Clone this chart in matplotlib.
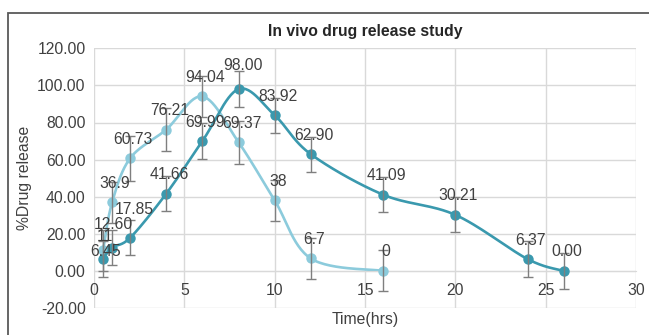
import matplotlib.pyplot as plt
from matplotlib.patches import Rectangle
import numpy as np

plt.rcParams['font.family'] = ['Liberation Sans', 'DejaVu Sans']

# light series
t_a = [0.5, 1, 2, 4, 6, 8, 10, 12, 16]
rel_a = [11, 36.9, 60.73, 76.21, 94.04, 69.37, 38, 6.7, 0]
lab_a = ['11', '36.9', '60.73', '76.21', '94.04', '69.37', '38', '6.7', '0']
err_a = [11, 11, 12, 11.5, 11, 11.5, 11, 11, 11]

# dark series
t_b = [0.5, 1, 2, 4, 6, 8, 10, 12, 16, 20, 24, 26]
rel_b = [6.45, 12.60, 17.85, 41.66, 69.99, 98.00, 83.92, 62.90, 41.09, 30.21, 6.37, 0.00]
lab_b = ['6.45', '12.60', '17.85', '41.66', '69.99', '98.00', '83.92', '62.90',
         '41.09', '30.21', '6.37', '0.00']
err_b = [9.5] * 12

light = '#8ccbdc'
dark = '#3a99ae'
txt = '#404040'
grid = '#d9d9d9'


def smooth(x, y, n=30):
    # excel style smoothed line (catmull-rom as cubic bezier)
    p = np.column_stack([x, y]).astype(float)
    p = np.vstack([p[0], p, p[-1]])
    out = []
    s = np.linspace(0, 1, n)[:, None]
    for i in range(1, len(p) - 2):
        p0, p1, p2, p3 = p[i - 1], p[i], p[i + 1], p[i + 2]
        c1 = p1 + (p2 - p0) / 6
        c2 = p2 - (p3 - p1) / 6
        seg = ((1 - s) ** 3) * p1 + 3 * ((1 - s) ** 2) * s * c1 \
            + 3 * (1 - s) * s ** 2 * c2 + s ** 3 * p2
        out.append(seg)
    out = np.vstack(out)
    return out[:, 0], out[:, 1]


fig = plt.figure(figsize=(6.49, 3.35), dpi=100)
ax = fig.add_axes([94 / 649, 1 - 308 / 335, 542 / 649, 259.7 / 335])

fig.patches.append(Rectangle((8 / 649, -0.1), 1.2, 1 - 13 / 335 + 0.1,
                             transform=fig.transFigure, fill=False,
                             edgecolor='#595959', lw=1.3))

ax.set_xlim(0, 30)
ax.set_ylim(-20, 120)
ax.set_xticks(range(0, 31, 5))
ax.set_yticks(range(-20, 121, 20))
ax.set_yticklabels(['%.2f' % v for v in range(-20, 121, 20)])
ax.grid(True, color=grid, lw=1)
ax.set_axisbelow(True)
for s in ['top', 'right', 'left']:
    ax.spines[s].set_visible(False)
ax.spines['bottom'].set_position(('data', 0))
ax.spines['bottom'].set_color(grid)
ax.tick_params(length=0, labelsize=11.3, labelcolor=txt)
ax.tick_params(axis='x', pad=9)
ax.tick_params(axis='y', pad=6)

xs, ys = smooth(t_a, rel_a)
ax.plot(xs, ys, color=light, lw=1.9, zorder=2)
ax.plot(t_a, rel_a, 'o', color=light, ms=6.5, zorder=3)
xs, ys = smooth(t_b, rel_b)
ax.plot(xs, ys, color=dark, lw=1.9, zorder=4)
ax.plot(t_b, rel_b, 'o', color=dark, ms=6.5, zorder=5)

ax.errorbar(t_a, rel_a, yerr=err_a, fmt='none', ecolor='#7f7f7f',
            elinewidth=1, capsize=3.5, capthick=1, zorder=6)
ax.errorbar(t_b, rel_b, yerr=err_b, fmt='none', ecolor='#7f7f7f',
            elinewidth=1, capsize=3.5, capthick=1, zorder=6)

# label offsets in pixels, default above the point
moves = {'11': (1.5, 14), '12.60': (1, 23.5), '6.45': (3, 7),
         '17.85': (4, 28), '98.00': (4, 24)}
for xv, yv, lb in list(zip(t_a, rel_a, lab_a)) + list(zip(t_b, rel_b, lab_b)):
    dx, dy = moves.get(lb, (3, 19))
    ax.annotate(lb, (xv, yv), xytext=(dx * 0.72, dy * 0.72),
                textcoords='offset points', ha='center', va='center',
                fontsize=11.3, color=txt, zorder=7)

ax.set_title('In vivo drug release study', fontsize=11.3, fontweight='bold',
             color='#262626', pad=9)
ax.set_xlabel('Time(hrs)', fontsize=11.3, color=txt)
ax.xaxis.set_label_coords(0.5, -0.015)
ax.set_ylabel('%Drug release', fontsize=11.3, color=txt)
ax.yaxis.set_label_coords(-0.114, 0.5)

plt.savefig('out.png', dpi=100)
